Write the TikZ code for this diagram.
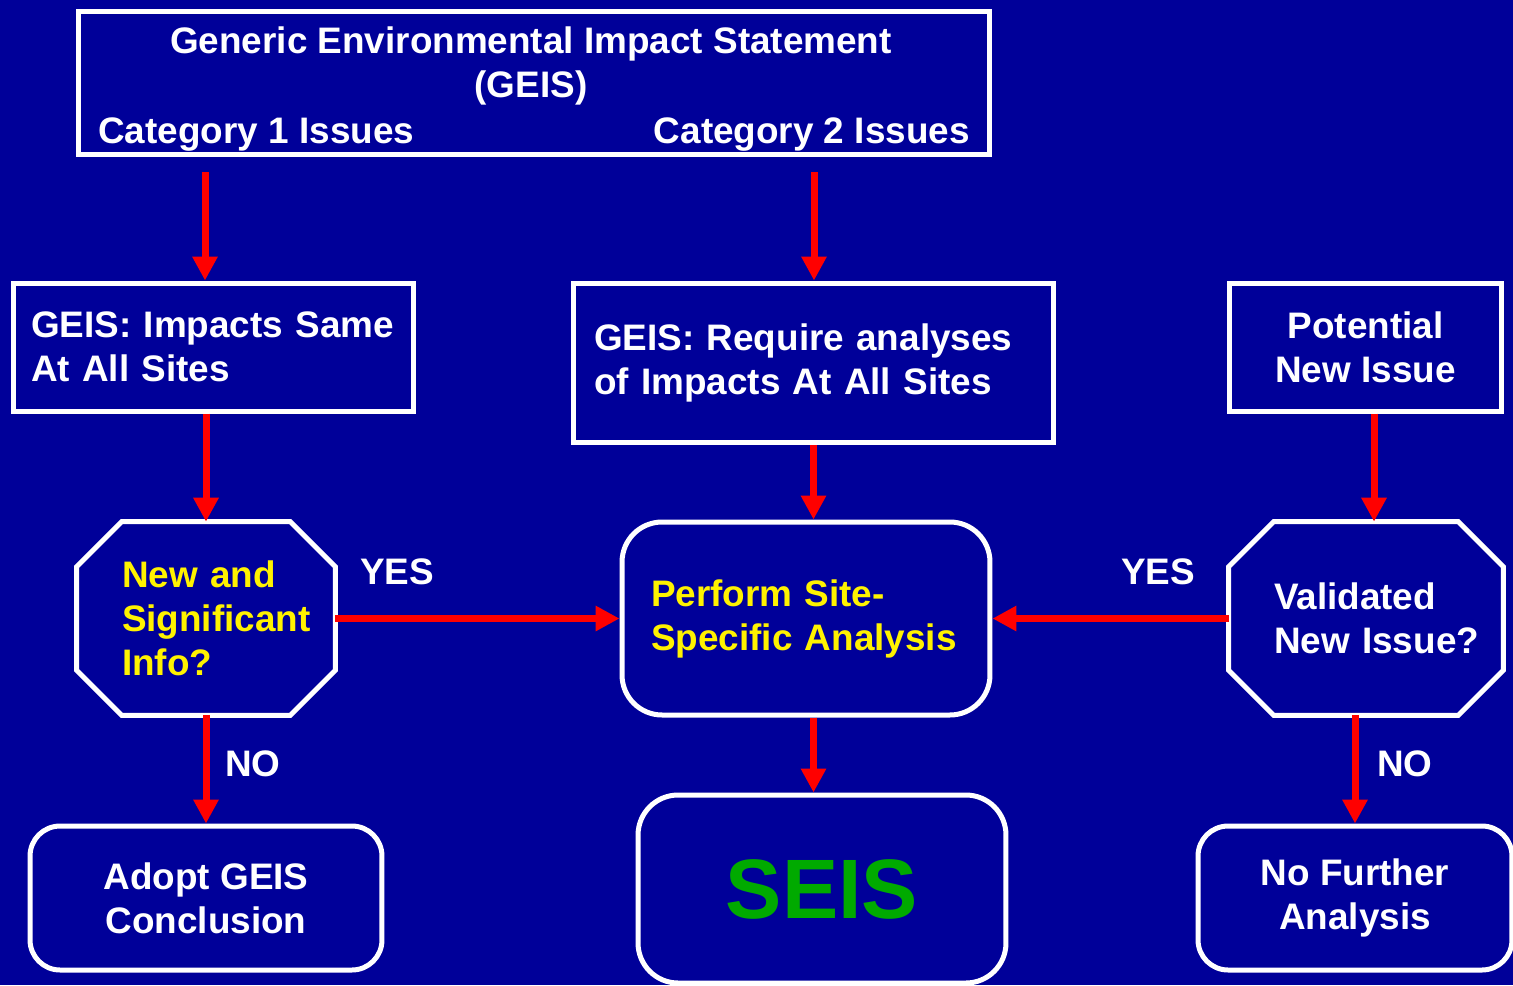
\documentclass[tikz,border=0pt]{standalone}
\usepackage{fontspec}
\setmainfont{Liberation Sans}
\usetikzlibrary{arrows.meta}
\definecolor{slide}{RGB}{0,0,153}
\definecolor{seisgreen}{RGB}{0,170,0}
\begin{document}
\begin{tikzpicture}[x=0.02cm,y=-0.02cm,
every node/.style={text=white,font=\fontsize{21}{25}\selectfont\bfseries},
frame/.style={draw=white,line width=0.1cm},
box/.style={frame,rectangle,inner ysep=0pt},
rbox/.style={frame,rounded corners=0.6cm,inner sep=0pt,align=center},
octa/.style={inner ysep=0pt,inner xsep=0.9cm,align=left,text=yellow,minimum height=3.86cm},
flow/.style={draw=red,line width=0.14cm,-{Triangle[width=0.48cm,length=0.48cm]}},
]
\path[use as bounding box,fill=slide] (0,0) rectangle (1513,985);
% top statement
\node[box,minimum width=18.24cm,minimum height=2.88cm] (geis) at (534,83) {};
\node[align=center] (title) at (531,66) {Generic Environmental Impact Statement\\(GEIS)};
\node[anchor=base west,inner sep=0pt] (cat1) at (98,143) {Category 1 Issues};
\node[anchor=base east,inner sep=0pt] (cat2) at (970,143) {Category 2 Issues};
\coordinate (c1) at (205,172);
\coordinate (c2) at (814,172);
% second row
\node[box,inner xsep=0.36cm,text width=7.3cm,align=left,minimum height=2.56cm] (gimp) at (213.5,347)
    {\mbox{GEIS: Impacts Same}\\At All Sites};
\node[box,inner xsep=0.42cm,text width=8.78cm,align=left,minimum height=3.2cm] (req) at (813.5,363)
    {GEIS: Require analyses\\of Impacts At All Sites};
\node[box,align=center,minimum width=5.46cm,minimum height=2.56cm] (newi) at (1365.5,347)
    {Potential\\New Issue};
% decisions
\node[octa,text width=3.36cm] (q1) at (206,618.5) {New and\\Significant\\Info?};
\node[octa,text width=3.68cm,text=white] (q2) at (1366,618.5) {Validated\\\mbox{New Issue?}};
\foreach \q in {q1,q2}
  \draw[frame] ([xshift=0.9cm]\q.north west) -- ([xshift=-0.9cm]\q.north east)
    -- ([yshift=-0.9cm]\q.north east) -- ([yshift=0.9cm]\q.south east)
    -- ([xshift=-0.9cm]\q.south east) -- ([xshift=0.9cm]\q.south west)
    -- ([yshift=0.9cm]\q.south west) -- ([yshift=-0.9cm]\q.north west) -- cycle;
\node[frame,rounded corners=0.8cm,inner ysep=0pt,inner xsep=0.58cm,text width=6.2cm,
    align=left,minimum height=3.86cm,text=yellow] (site) at (806,618.5)
    {Perform Site-\\Specific Analysis};
% results
\node[rbox,minimum width=7.04cm,minimum height=2.88cm] (adopt) at (206,898) {Adopt GEIS\\Conclusion};
\node[rbox,rounded corners=0.8cm,minimum width=7.36cm,minimum height=3.76cm,text=seisgreen,
    font=\fontsize{48}{50}\selectfont\bfseries] (seis) at (822,889) {SEIS};
\node[rbox,minimum width=6.28cm,minimum height=2.88cm] (nofu) at (1355,898) {No Further\\Analysis};
% labels
\node (yes1) at (397,572) {YES};
\node (yes2) at (1158,572) {YES};
\node (no1) at (253,764) {NO};
\node (no2) at (1405,764) {NO};
% arrows
\draw[flow] (c1) -- (c1 |- gimp.north);
\draw[flow] (c2) -- (c2 |- req.north);
\draw[flow] (gimp.south -| q1.north) -- (q1.north);
\draw[flow] (req.south) -- (req.south |- site.north);
\draw[flow] ([xshift=0.17cm]newi.south) -- ([xshift=0.17cm]newi.south |- q2.north);
\draw[flow] (q1.east) -- (site.west);
\draw[flow] (q2.west) -- (site.east);
\draw[flow] (q1.south) -- (adopt.north);
\draw[flow] (site.south -| req.south) -- (req.south |- seis.north);
\draw[flow] (q2.south -| nofu.north) -- (nofu.north);
\end{tikzpicture}
\end{document}
